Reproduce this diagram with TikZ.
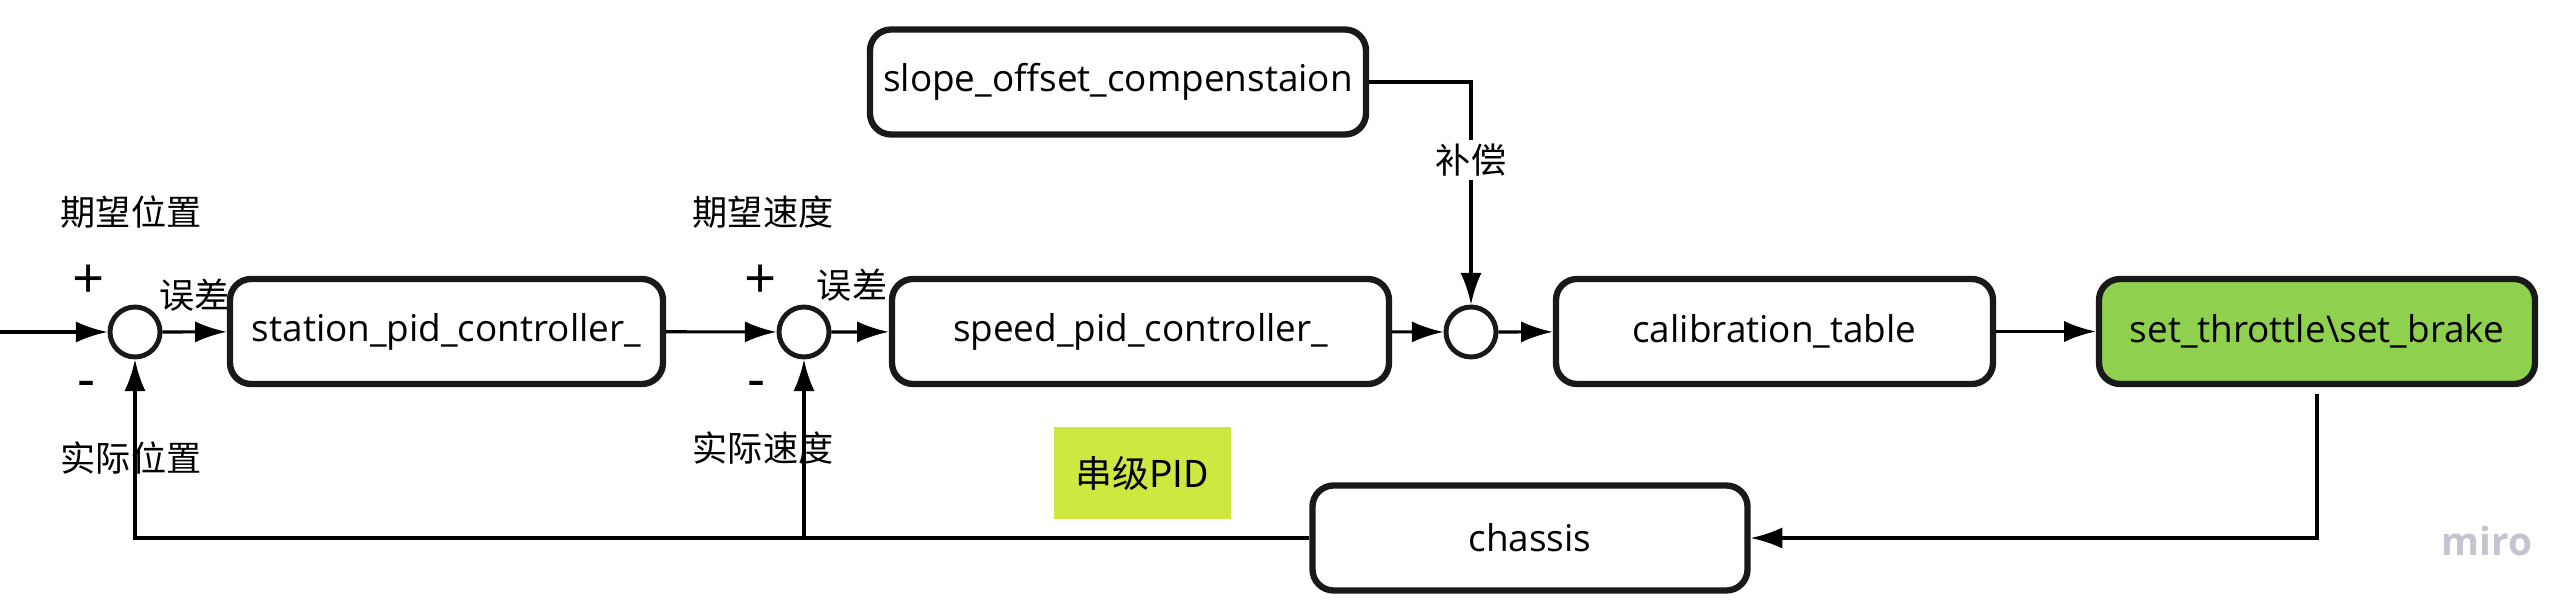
\documentclass[tikz,border=0pt]{standalone}
\usepackage{fontspec}
\setmainfont{Open Sans}
\newfontfamily\cjk{Noto Sans CJK SC}
\usetikzlibrary{arrows.meta,positioning}
\definecolor{actgreen}{HTML}{8FD14F}
\definecolor{pidyellow}{HTML}{CEE741}
\definecolor{mirogray}{HTML}{C4C4D0}
\begin{document}
\begin{tikzpicture}[>={Latex[length=9pt,width=6pt]},line width=0.9pt,x=1cm,y=1cm]
 \tikzset{
 	block node/.style={rectangle,rounded corners=6pt,draw=black!90,line width=1.8pt,minimum height=1.05cm,font=\fontsize{10.5}{12}\selectfont},
 	sum node/.style={circle,draw=black!90,line width=1.4pt,minimum size=0.5cm,inner sep=0},
 	label node/.style={font=\cjk\fontsize{10}{12}\selectfont,inner sep=1pt},
 	sign node/.style={font=\fontsize{16}{18}\selectfont,inner sep=0}
 }
 \useasboundingbox (0,0) rectangle (25.74,6.06);

       \coordinate (in) at (0,2.74);
       \node[sum node] (sA) at (1.35,2.74) {};
       \node[block node,minimum width=4.33cm] (station) at (4.465,2.745) {station\_pid\_controller\_};
       \node[sum node] (sB) at (8.04,2.74) {};
       \node[block node,minimum width=4.97cm] (speed) at (11.405,2.745) {speed\_pid\_controller\_};
       \node[sum node] (sC) at (14.71,2.74) {};
       \node[block node,minimum width=4.37cm] (calib) at (17.745,2.745) {calibration\_table};
       \node[block node,minimum width=4.36cm,fill=actgreen] (act) at (23.17,2.745) {set\_throttle\textbackslash set\_brake};
       \node[block node,minimum width=4.96cm] (slope) at (11.18,5.24) {slope\_offset\_compenstaion};
       \node[block node,minimum width=4.35cm] (chassis) at (15.30,0.68) {chassis};
       \node[fill=pidyellow,minimum width=1.77cm,minimum height=0.92cm,font=\cjk\fontsize{10.5}{12}\selectfont] (pid) at (11.425,1.33) {串级PID};
       \node[text=mirogray,font=\fontsize{11}{12}\selectfont\bfseries] (miro) at (24.87,0.65) {miro};

       % signs and labels
       \node[sign node] (pA) at (0.89,3.24) {+};
       \node[sign node] (mA) at (0.87,2.16) {-};
       \node[label node] (refA) at (1.31,3.94) {期望位置};
       \node[label node] (fbA) at (1.31,1.48) {实际位置};
       \node[label node] (eA) at (1.95,3.11) {误差};
       \node[sign node] (pB) at (7.61,3.24) {+};
       \node[sign node] (mB) at (7.57,2.16) {-};
       \node[label node] (refB) at (7.63,3.94) {期望速度};
       \node[label node] (fbB) at (7.63,1.58) {实际速度};
       \node[label node] (eB) at (8.52,3.21) {误差};

       \coordinate (cTop) at (sC |- slope);
       \coordinate (fbEnd) at (sA |- chassis.west);
       \coordinate (fbMid) at (sB |- chassis.west);
       \coordinate (actDown) at (act.south |- chassis.east);

     \draw[->] (in) -- (sA);
     \draw[->] (sA) -- (station);
     \draw[->] (station) -- (sB);
     \draw[->] (sB) -- (speed);
     \draw[->] (speed) -- (sC);
     \draw[->] (sC) -- (calib);
     \draw[->] (calib) -- (act);
     \draw[->] (slope.east) -- (cTop) -- node[label node,fill=white,pos=0.35] (comp) {补偿} (sC);
     \draw[->] ([yshift=-2pt]act.south) -- (actDown) -- (chassis.east);
     \draw[->] (chassis.west) -- (fbEnd) -- (sA);
     \draw[->] (fbMid) -- (sB);
 \end{tikzpicture}
\end{document}
